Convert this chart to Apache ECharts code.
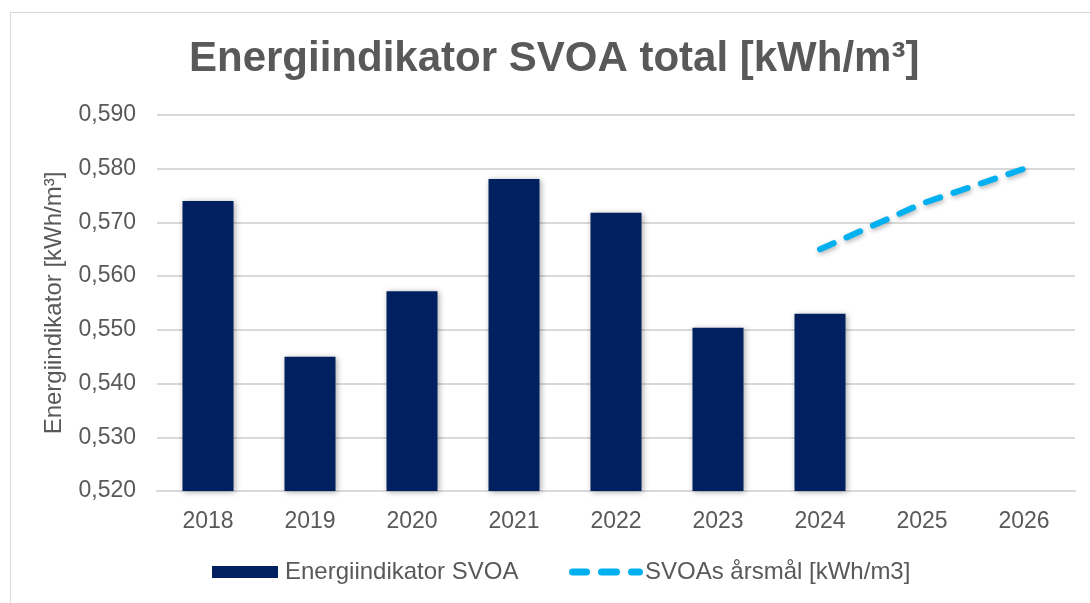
<!DOCTYPE html>
<html>
<head>
<meta charset="utf-8">
<script src="https://cdn.jsdelivr.net/npm/echarts@6/dist/echarts.min.js"></script>
<style>
  html, body { margin: 0; padding: 0; background: #fff; overflow: hidden; }
  #frame { position: absolute; left: 10px; top: 12px; width: 1100px; height: 620px; border: 1px solid #d9d9d9; box-sizing: border-box; }
  #chart { position: absolute; left: 0; top: 0; width: 1090px; height: 603px; }
</style>
</head>
<body>
<div id="frame"></div>
<div id="chart"></div>
<script>
const years = ['2018', '2019', '2020', '2021', '2022', '2023', '2024', '2025', '2026'];
const energiindikator = [0.574, 0.545, 0.5572, 0.5781, 0.5718, 0.5504, 0.5530, null, null];
const arsmal = [null, null, null, null, null, null, 0.565, 0.5735, 0.580];
const yTicks = { min: 0.52, max: 0.59, interval: 0.01 };

const textColor = '#595959';
const font = 'Liberation Sans, Arial, sans-serif';

// three rounded dashes for the target line legend
const dashIcon = 'path://M3.5,0h14a3.5,3.5 0 0 1 0,7h-14a3.5,3.5 0 0 1 0,-7z' +
  'M32.5,0h15a3.5,3.5 0 0 1 0,7h-15a3.5,3.5 0 0 1 0,-7z' +
  'M62.5,0h8a3.5,3.5 0 0 1 0,7h-8a3.5,3.5 0 0 1 0,-7z';

const chart = echarts.init(document.getElementById('chart'));

chart.setOption({
  backgroundColor: 'transparent',
  animation: false,
  title: {
    text: 'Energiindikator SVOA total [kWh/m³]',
    left: 184,
    top: 33,
    textStyle: {
      color: textColor,
      fontSize: 42,
      fontWeight: 'bold',
      fontFamily: font,
    },
  },
  legend: [
    {
      data: [{ name: 'Energiindikator SVOA', icon: 'rect' }],
      left: 212,
      top: 560,
      padding: 0,
      itemWidth: 66,
      itemHeight: 12,
      textStyle: { color: textColor, fontSize: 24, fontFamily: font, padding: [0, 0, 0, 2] },
    },
    {
      data: [{ name: 'SVOAs årsmål [kWh/m3]', icon: dashIcon }],
      left: 569,
      top: 560,
      padding: 0,
      itemWidth: 74,
      itemHeight: 7,
      textStyle: { color: textColor, fontSize: 24, fontFamily: font, padding: [0, 0, 0, -3] },
    },
  ],
  grid: {
    left: 157,
    right: 15,
    top: 115,
    bottom: 112,
  },
  xAxis: {
    type: 'category',
    data: years,
    axisLine: { lineStyle: { color: '#d9d9d9', width: 2 } },
    axisTick: { show: false },
    axisLabel: {
      color: textColor,
      fontSize: 23,
      fontFamily: font,
      margin: 19,
    },
  },
  yAxis: {
    type: 'value',
    min: yTicks.min,
    max: yTicks.max,
    interval: yTicks.interval,
    name: 'Energiindikator [kWh/m³]',
    nameLocation: 'middle',
    nameGap: 91,
    nameTextStyle: { color: textColor, fontSize: 24, fontFamily: font },
    axisLine: { show: false },
    axisTick: { show: false },
    axisLabel: {
      color: textColor,
      fontSize: 23,
      fontFamily: font,
      margin: 21,
      formatter: (v) => v.toFixed(3).replace('.', ','),
    },
    splitLine: { lineStyle: { color: '#d9d9d9', width: 2 } },
  },
  series: [
    {
      name: 'Energiindikator SVOA',
      type: 'bar',
      data: energiindikator,
      barWidth: '50%',
      itemStyle: {
        color: '#002060',
        shadowColor: 'rgba(0,0,0,0.35)',
        shadowBlur: 6,
        shadowOffsetX: 1,
        shadowOffsetY: 1,
      },
    },
    {
      name: 'SVOAs årsmål [kWh/m3]',
      type: 'line',
      data: arsmal,
      symbol: 'none',
      itemStyle: { color: '#00B0F0' },
      lineStyle: {
        color: '#00B0F0',
        width: 6,
        type: [15, 14],
        cap: 'round',
        shadowColor: 'rgba(0,0,0,0.3)',
        shadowBlur: 5,
        shadowOffsetX: 1,
        shadowOffsetY: 2,
      },
    },
  ],
});
</script>
</body>
</html>
